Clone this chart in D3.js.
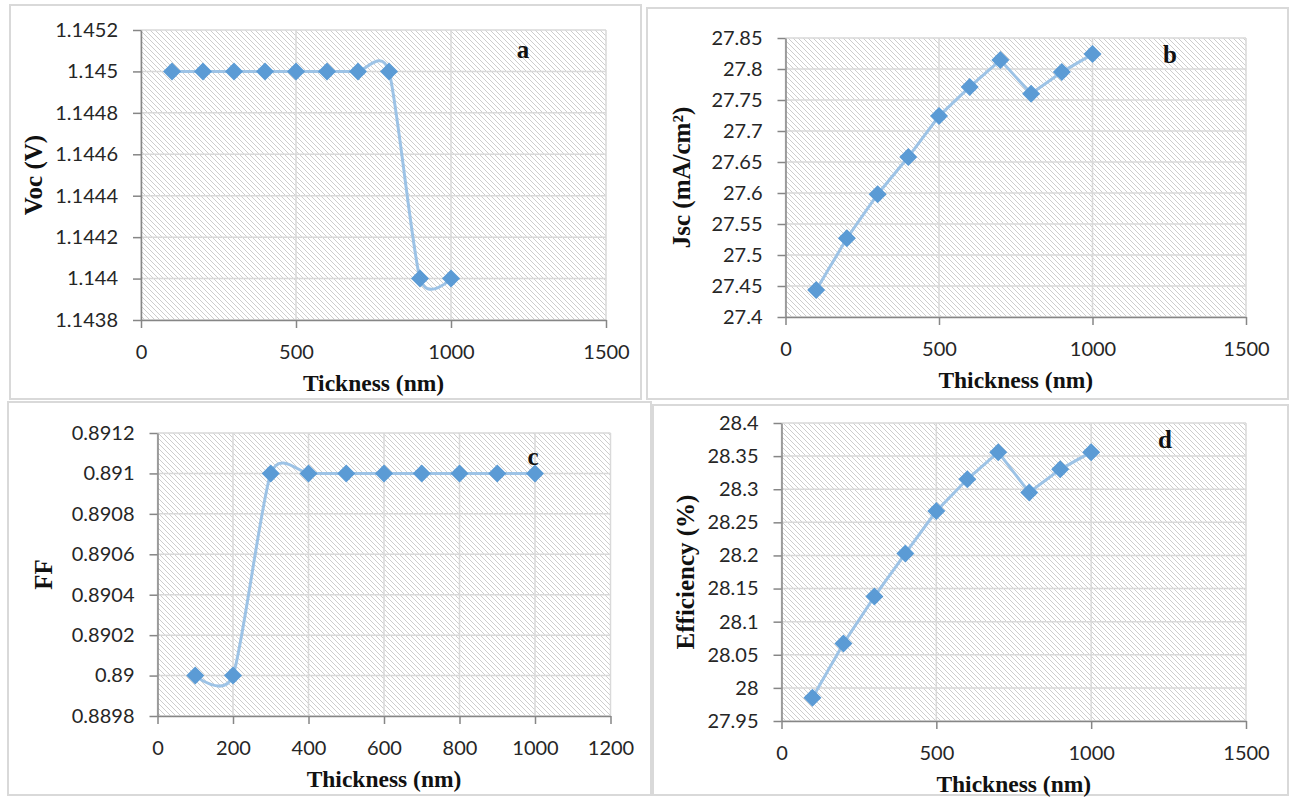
<!DOCTYPE html>
<html>
<head>
<meta charset="utf-8">
<script src="https://cdn.jsdelivr.net/npm/d3@7"></script>
<style>
  body { margin: 0; background: #fff; }
</style>
</head>
<body>
<div id="chart"></div>
<script>
// data
const thickness = [100, 200, 300, 400, 500, 600, 700, 800, 900, 1000];
const vocValues = [1.145, 1.145, 1.145, 1.145, 1.145, 1.145, 1.145, 1.145, 1.144, 1.144];
const jscValues = [27.4435, 27.527, 27.598, 27.658, 27.724, 27.771, 27.8145, 27.76, 27.795, 27.824];
const ffValues = [0.89, 0.89, 0.891, 0.891, 0.891, 0.891, 0.891, 0.891, 0.891, 0.891];
const effValues = [27.985, 28.067, 28.138, 28.203, 28.267, 28.315, 28.356, 28.295, 28.33, 28.356];

// tick labels
const vocTicks = [1.1438, 1.144, 1.1442, 1.1444, 1.1446, 1.1448, 1.145, 1.1452];
const jscTicks = [27.4, 27.45, 27.5, 27.55, 27.6, 27.65, 27.7, 27.75, 27.8, 27.85];
const ffTicks = [0.8898, 0.89, 0.8902, 0.8904, 0.8906, 0.8908, 0.891, 0.8912];
const effTicks = [27.95, 28, 28.05, 28.1, 28.15, 28.2, 28.25, 28.3, 28.35, 28.4];
const xTicksWide = [0, 500, 1000, 1500];
const xTicksNarrow = [0, 200, 400, 600, 800, 1000, 1200];

const width = 1290;
const height = 797;

// excel-like smoothed line
const smooth = d3.curveCardinal.tension(0.3);

const panels = [
    {letter: "a", box: [10, 5, 641, 399], plot: [141, 30, 606, 320], xt: xTicksWide, yt: vocTicks,
     values: vocValues, curve: smooth, xTitle: "Tickness (nm)", yTitle: "Voc (V)", yTitleX: 33, letterPos: [523, 58]},
    {letter: "b", box: [647, 8, 1288, 399], plot: [785.5, 38, 1246, 317], xt: xTicksWide, yt: jscTicks,
     values: jscValues, curve: d3.curveLinear, xTitle: "Thickness (nm)", yTitle: "Jsc (mA/cm²)", yTitleX: 681, letterPos: [1170, 63]},
    {letter: "c", box: [8, 402, 651, 795], plot: [157.5, 433, 610.5, 716], xt: xTicksNarrow, yt: ffTicks,
     values: ffValues, curve: smooth, xTitle: "Thickness (nm)", yTitle: "FF", yTitleX: 43, letterPos: [533, 465]},
    {letter: "d", box: [653, 405, 1288, 795], plot: [781.5, 423, 1246, 721], xt: xTicksWide, yt: effTicks,
     values: effValues, curve: d3.curveLinear, xTitle: "Thickness (nm)", yTitle: "Efficiency (%)", yTitleX: 685, letterPos: [1165, 448]}
];

const svg = d3.select("#chart")
    .append("svg")
    .attr("width", width)
    .attr("height", height);

// hatch fill of the plot areas
const defs = svg.append("defs");
const hatch = defs.append("pattern")
    .attr("id", "hatch")
    .attr("patternUnits", "userSpaceOnUse")
    .attr("width", 5)
    .attr("height", 5);
hatch.append("rect").attr("width", 5).attr("height", 5).attr("fill", "#fff");
hatch.append("path")
    .attr("d", "M0,0L5,5M-1,4L1,6M4,-1L6,1")
    .attr("stroke", "#cdcdcd")
    .attr("stroke-width", 1);

const diamond = "M0,-9L9,0L0,9L-9,0Z";
const serif = "'Liberation Serif', 'Times New Roman', serif";

panels.forEach(function (p) {
    const g = svg.append("g");

    // panel frame
    g.append("rect")
        .attr("x", p.box[0])
        .attr("y", p.box[1])
        .attr("width", p.box[2] - p.box[0])
        .attr("height", p.box[3] - p.box[1])
        .attr("fill", "#fff")
        .attr("stroke", "#d9d9d9")
        .attr("stroke-width", 2);

    const x = d3.scaleLinear()
        .domain([p.xt[0], p.xt[p.xt.length - 1]])
        .range([p.plot[0], p.plot[2]]);
    const y = d3.scaleLinear()
        .domain([p.yt[0], p.yt[p.yt.length - 1]])
        .range([p.plot[3], p.plot[1]]);

    g.append("rect")
        .attr("x", p.plot[0])
        .attr("y", p.plot[1])
        .attr("width", p.plot[2] - p.plot[0])
        .attr("height", p.plot[3] - p.plot[1])
        .attr("fill", "url(#hatch)");

    // gridlines
    g.append("g")
        .selectAll("line")
        .data(p.yt)
        .join("line")
        .attr("x1", p.plot[0]).attr("x2", p.plot[2])
        .attr("y1", d => y(d)).attr("y2", d => y(d))
        .attr("stroke", "#d9d9d9")
        .attr("stroke-width", 1.5);
    g.append("g")
        .selectAll("line")
        .data(p.xt)
        .join("line")
        .attr("y1", p.plot[1]).attr("y2", p.plot[3])
        .attr("x1", d => x(d)).attr("x2", d => x(d))
        .attr("stroke", "#d9d9d9")
        .attr("stroke-width", 1.5);

    // axes
    const xAxis = g.append("g")
        .attr("transform", "translate(0," + p.plot[3] + ")")
        .call(d3.axisBottom(x).tickValues(p.xt).tickSize(8).tickSizeOuter(0).tickFormat(d => String(d)));
    const yAxis = g.append("g")
        .attr("transform", "translate(" + p.plot[0] + ",0)")
        .call(d3.axisLeft(y).tickValues(p.yt).tickSize(8).tickSizeOuter(0).tickFormat(d => String(d)));

    [xAxis, yAxis].forEach(function (ax) {
        ax.select(".domain").attr("stroke", "#868686").attr("stroke-width", 1.5);
        ax.selectAll(".tick line").attr("stroke", "#868686").attr("stroke-width", 1.5);
        ax.selectAll(".tick text")
            .attr("fill", "#262626")
            .style("font-family", "Lato, 'Open Sans', sans-serif")
            .style("font-size", "20px");
    });
    xAxis.selectAll(".tick text").attr("y", 39).attr("dy", 0);
    yAxis.selectAll(".tick text").attr("x", -23);

    // series
    const line = d3.line()
        .x((d, i) => x(thickness[i]))
        .y(d => y(d))
        .curve(p.curve);

    g.append("path")
        .datum(p.values)
        .attr("d", line)
        .attr("fill", "none")
        .attr("stroke", "#9dc3e6")
        .attr("stroke-width", 3);

    g.append("g")
        .selectAll("path")
        .data(p.values)
        .join("path")
        .attr("d", diamond)
        .attr("transform", (d, i) => "translate(" + x(thickness[i]) + "," + y(d) + ")")
        .attr("fill", "#5b9bd5");

    // titles
    g.append("text")
        .attr("x", (p.plot[0] + p.plot[2]) / 2)
        .attr("y", p.plot[3] + 71)
        .attr("text-anchor", "middle")
        .style("font-family", serif)
        .style("font-weight", "bold")
        .style("font-size", "23.5px")
        .attr("fill", "#111")
        .text(p.xTitle);

    g.append("text")
        .attr("transform", "translate(" + p.yTitleX + "," + (p.plot[1] + p.plot[3]) / 2 + ") rotate(-90)")
        .attr("dy", "0.35em")
        .attr("text-anchor", "middle")
        .style("font-family", serif)
        .style("font-weight", "bold")
        .style("font-size", "25px")
        .attr("fill", "#111")
        .text(p.yTitle);

    g.append("text")
        .attr("x", p.letterPos[0])
        .attr("y", p.letterPos[1])
        .attr("text-anchor", "middle")
        .style("font-family", serif)
        .style("font-weight", "bold")
        .style("font-size", "25px")
        .attr("fill", "#111")
        .text(p.letter);
});
</script>
</body>
</html>
